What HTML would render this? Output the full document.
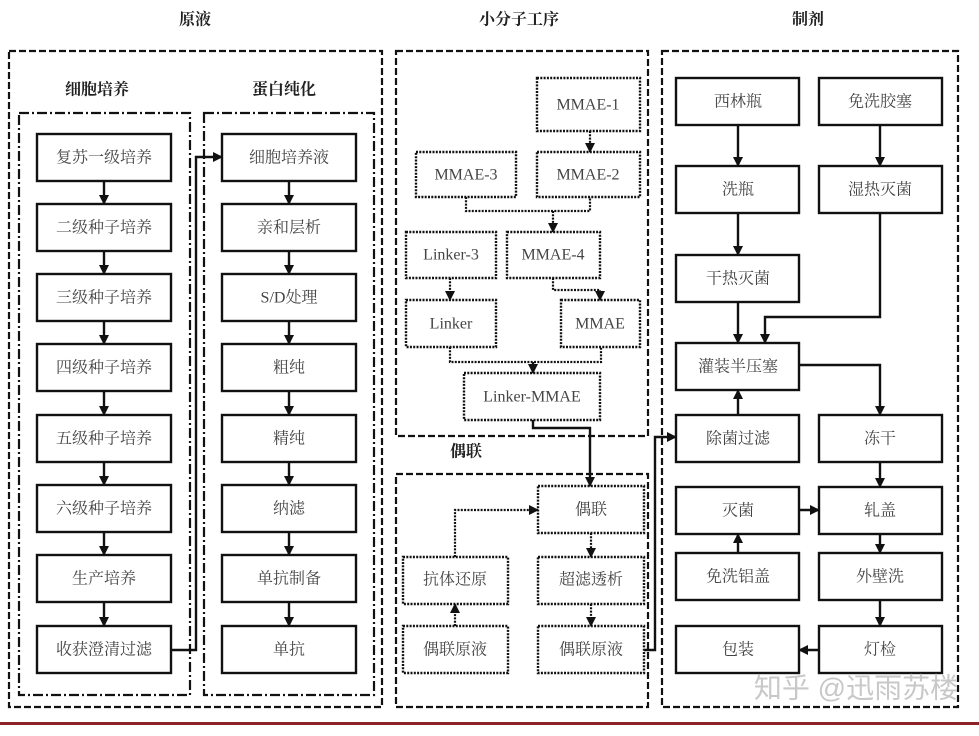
<!DOCTYPE html>
<html><head><meta charset="utf-8"><style>
html,body{margin:0;padding:0;background:#fff}
svg text{font-family:"Liberation Serif","Noto Serif CJK SC",serif;font-size:16px;fill:#444;text-anchor:middle;dominant-baseline:central}
.t{font-weight:bold;fill:#222;font-size:16px}
</style></head><body>
<svg width="979" height="731" viewBox="0 0 979 731" xmlns="http://www.w3.org/2000/svg">
<defs><marker id="a" markerWidth="10" markerHeight="10" refX="9" refY="5" orient="auto" markerUnits="userSpaceOnUse"><path d="M0,0 L10,5 L0,10z" fill="#111"/></marker></defs>
<rect width="979" height="731" fill="#fff"/>
<text class="t" x="195" y="20">原液</text>
<text class="t" x="519" y="20">小分子工序</text>
<text class="t" x="808" y="20">制剂</text>
<text class="t" x="97" y="90">细胞培养</text>
<text class="t" x="284" y="90">蛋白纯化</text>
<text class="t" x="466" y="452">偶联</text>
<g fill="none" stroke="#111" stroke-width="2.2" stroke-dasharray="7,3">
<rect x="9" y="51" width="373" height="656"/>
<rect x="396" y="51" width="252" height="385"/>
<rect x="396" y="474" width="252" height="233"/>
<rect x="662" y="51" width="296" height="656"/>
</g>
<g fill="none" stroke="#111" stroke-width="2.2" stroke-dasharray="10,3,2,3">
<rect x="19" y="113" width="171" height="582"/>
<rect x="204" y="113" width="170" height="582"/>
</g>
<g fill="#fff" stroke="#111" stroke-width="2.4">
<rect x="37" y="134" width="134" height="47"/><rect x="37" y="204" width="134" height="47"/><rect x="37" y="274" width="134" height="47"/><rect x="37" y="344" width="134" height="47"/><rect x="37" y="415" width="134" height="47"/><rect x="37" y="485" width="134" height="47"/><rect x="37" y="555" width="134" height="47"/><rect x="37" y="626" width="134" height="47"/>
<rect x="222" y="134" width="134" height="47"/><rect x="222" y="204" width="134" height="47"/><rect x="222" y="274" width="134" height="47"/><rect x="222" y="344" width="134" height="47"/><rect x="222" y="415" width="134" height="47"/><rect x="222" y="485" width="134" height="47"/><rect x="222" y="555" width="134" height="47"/><rect x="222" y="626" width="134" height="47"/>
<rect x="676" y="78" width="123" height="47"/><rect x="819" y="78" width="123" height="47"/>
<rect x="676" y="166" width="123" height="47"/><rect x="819" y="166" width="123" height="47"/>
<rect x="676" y="255" width="123" height="47"/>
<rect x="676" y="343" width="123" height="47"/>
<rect x="676" y="415" width="123" height="47"/><rect x="819" y="415" width="123" height="47"/>
<rect x="676" y="487" width="123" height="47"/><rect x="819" y="487" width="123" height="47"/>
<rect x="676" y="553" width="123" height="47"/><rect x="819" y="553" width="123" height="47"/>
<rect x="676" y="626" width="123" height="47"/><rect x="819" y="626" width="123" height="47"/>
</g>
<g fill="#fff" stroke="#111" stroke-width="2.4" stroke-dasharray="2,1.3">
<rect x="537" y="78" width="103" height="53"/>
<rect x="416" y="152" width="100" height="45"/><rect x="537" y="152" width="103" height="45"/>
<rect x="406" y="232" width="90" height="46"/><rect x="507" y="232" width="93" height="46"/>
<rect x="406" y="300" width="90" height="47"/><rect x="561" y="300" width="79" height="47"/>
<rect x="464" y="373" width="136" height="47"/>
<rect x="538" y="486" width="106" height="47"/><rect x="538" y="557" width="106" height="47"/><rect x="538" y="626" width="106" height="47"/>
<rect x="403" y="557" width="105" height="47"/><rect x="403" y="626" width="105" height="47"/>
</g>
<g fill="none" stroke="#111" stroke-width="2.2" stroke-dasharray="2,1.3" marker-end="url(#a)">
<path d="M590,131 V152"/>
<path d="M466,197 V211 H590 V197 M553,211 V232"/>
<path d="M450,278 V300"/>
<path d="M553,278 V290 H600 V300"/>
<path d="M450,347 V362 H601 V347 M533,362 V373"/>
<path d="M591,533 V557"/><path d="M591,604 V626"/>
<path d="M455,626 V604"/>
<path d="M455,557 V510 H538"/>
</g>
<g fill="none" stroke="#111" stroke-width="2.4" marker-end="url(#a)">
<path d="M104,181V204"/><path d="M104,251V274"/><path d="M104,321V344"/><path d="M104,391V415"/><path d="M104,462V485"/><path d="M104,532V555"/><path d="M104,602V626"/>
<path d="M289,181V204"/><path d="M289,251V274"/><path d="M289,321V344"/><path d="M289,391V415"/><path d="M289,462V485"/><path d="M289,532V555"/><path d="M289,602V626"/>
<path d="M171,650H196V157H222"/>
<path d="M533,420V428H590V486"/>
<path d="M644,650H655V437H676"/>
<path d="M738,125V166"/><path d="M738,213V255"/><path d="M738,302V343"/>
<path d="M880,125V166"/><path d="M880,213V317H765V343"/>
<path d="M738,415V390"/>
<path d="M799,365H880V415"/>
<path d="M880,462V487"/>
<path d="M799,510H819"/>
<path d="M738,553V534"/>
<path d="M880,534V553"/><path d="M880,600V626"/>
<path d="M819,650H799"/>
</g>
<g>
<text x="104" y="158">复苏一级培养</text><text x="104" y="228">二级种子培养</text><text x="104" y="298">三级种子培养</text><text x="104" y="368">四级种子培养</text><text x="104" y="439">五级种子培养</text><text x="104" y="509">六级种子培养</text><text x="104" y="579">生产培养</text><text x="104" y="650">收获澄清过滤</text>
<text x="289" y="158">细胞培养液</text><text x="289" y="228">亲和层析</text><text x="289" y="298">S/D处理</text><text x="289" y="368">粗纯</text><text x="289" y="439">精纯</text><text x="289" y="509">纳滤</text><text x="289" y="579">单抗制备</text><text x="289" y="650">单抗</text>
<text x="588" y="105">MMAE-1</text><text x="466" y="175">MMAE-3</text><text x="588" y="175">MMAE-2</text>
<text x="451" y="255">Linker-3</text><text x="553" y="255">MMAE-4</text>
<text x="451" y="324">Linker</text><text x="600" y="324">MMAE</text>
<text x="532" y="397">Linker-MMAE</text>
<text x="591" y="510">偶联</text><text x="591" y="580">超滤透析</text><text x="591" y="650">偶联原液</text>
<text x="455" y="580">抗体还原</text><text x="455" y="650">偶联原液</text>
<text x="738" y="102">西林瓶</text><text x="880" y="102">免洗胶塞</text>
<text x="738" y="190">洗瓶</text><text x="880" y="190">湿热灭菌</text>
<text x="738" y="279">干热灭菌</text><text x="738" y="367">灌装半压塞</text>
<text x="738" y="439">除菌过滤</text><text x="880" y="439">冻干</text>
<text x="738" y="511">灭菌</text><text x="880" y="511">轧盖</text>
<text x="738" y="577">免洗铝盖</text><text x="880" y="577">外壁洗</text>
<text x="738" y="650">包装</text><text x="880" y="650">灯检</text>
<text x="856" y="688" style="font-family:'Liberation Sans','Noto Sans CJK SC',sans-serif;font-size:28px;fill:#c8c8c8">知乎 @迅雨苏楼</text>
</g>
<rect x="0" y="722" width="979" height="3" fill="#8b2228"/>
</svg>
</body></html>
